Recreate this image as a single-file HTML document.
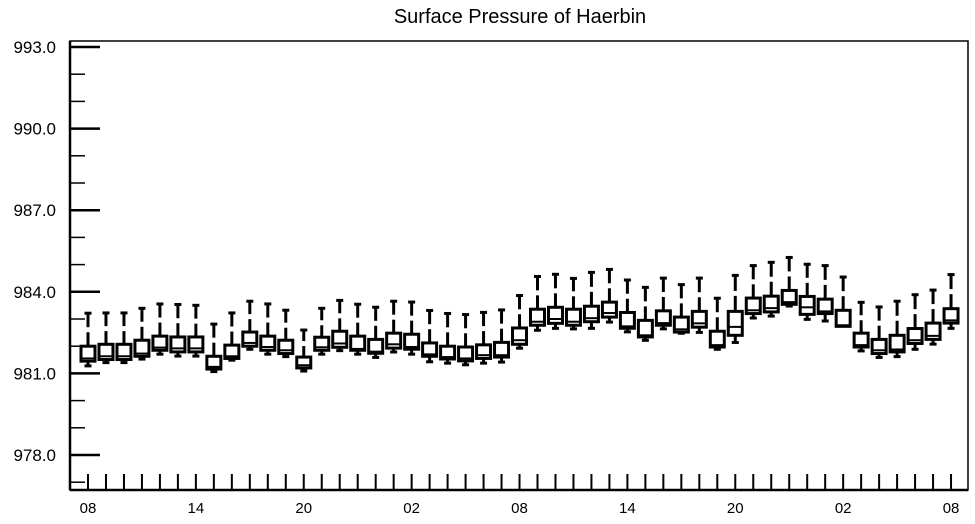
<!DOCTYPE html>
<html><head><meta charset="utf-8"><style>
html,body{margin:0;padding:0;background:#fff;}
svg text{font-family:"Liberation Sans",Arial,sans-serif;fill:#000;}
</style></head><body>
<svg id="chart" width="975" height="519" viewBox="0 0 975 519" xmlns="http://www.w3.org/2000/svg">
<text x="520" y="23" font-size="20" text-anchor="middle">Surface Pressure of Haerbin</text>
<rect x="70" y="41" width="898" height="449" fill="none" stroke="#000" stroke-width="1.5"/>
<line x1="70" y1="41" x2="70" y2="490" stroke="#000" stroke-width="2.5"/>
<line x1="70" y1="490" x2="968" y2="490" stroke="#000" stroke-width="2.5"/>
<g id="axes"></g>
<g id="boxes"></g>
</svg>
<script>
const yTicks = [993.0, 990.0, 987.0, 984.0, 981.0, 978.0];
const xLabels = ["08","14","20","02","08","14","20","02","08"];
const maxV = [983.25,983.26,983.26,983.43,983.59,983.57,983.54,982.85,983.26,983.69,983.59,983.36,982.63,983.43,983.72,983.58,983.47,983.69,983.66,983.35,983.24,983.2,983.28,983.37,983.9,984.6,984.68,984.53,984.75,984.86,984.47,984.2,984.54,984.3,984.54,983.8,984.64,985.0,985.12,985.3,985.05,985.0,984.58,983.65,983.48,983.69,983.93,984.1,984.67];
const q3V = [982.0,982.07,982.07,982.22,982.37,982.34,982.34,981.63,982.04,982.52,982.37,982.22,981.6,982.33,982.55,982.37,982.25,982.48,982.44,982.12,982.0,981.97,982.05,982.14,982.67,983.36,983.43,983.36,983.47,983.62,983.24,982.95,983.3,983.07,983.28,982.55,983.28,983.77,983.84,984.05,983.83,983.73,983.32,982.48,982.25,982.4,982.65,982.85,983.38];
const medV = [981.55,981.63,981.63,981.73,981.95,981.92,981.92,981.24,981.63,982.12,981.97,981.85,981.3,981.96,982.1,981.9,981.8,982.07,981.97,981.7,981.6,981.55,981.67,981.67,982.22,982.9,983.0,982.9,983.03,983.22,982.73,982.4,982.85,982.62,982.84,982.04,982.71,983.32,983.4,983.62,983.43,983.28,982.77,982.04,981.85,981.88,982.22,982.38,982.95];
const q1V = [981.45,981.51,981.51,981.63,981.85,981.79,981.79,981.16,981.55,982.0,981.85,981.73,981.2,981.85,981.96,981.85,981.74,981.93,981.89,981.63,981.53,981.46,981.55,981.6,982.07,982.77,982.84,982.77,982.9,983.07,982.66,982.34,982.77,982.52,982.7,981.97,982.4,983.2,983.26,983.54,983.17,983.2,982.73,981.97,981.73,981.79,982.1,982.25,982.85];
const minV = [981.24,981.36,981.36,981.49,981.67,981.6,981.6,981.03,981.45,981.85,981.67,981.58,981.05,981.67,981.8,981.67,981.55,981.75,981.67,981.39,981.34,981.28,981.34,981.38,981.89,982.55,982.62,982.6,982.62,982.85,982.49,982.18,982.6,982.44,982.47,981.85,982.1,983.0,983.07,983.44,982.95,982.89,982.71,981.79,981.55,981.58,981.85,982.04,982.62];

const NS="http://www.w3.org/2000/svg";
function yS(v){return 47+(993-v)*27.2;}
function xS(i){return 88+i*17.98;}
function mk(tag,attrs,parent){const e=document.createElementNS(NS,tag);for(const k in attrs)e.setAttribute(k,attrs[k]);parent.appendChild(e);return e;}
const ax=document.getElementById('axes');
// y ticks major + minor
for(let v=993;v>=977;v-=1){
  const major=yTicks.includes(v);
  const t=mk('line',{x1:70,x2:major?100:85,y1:yS(v),y2:yS(v),stroke:'#000','stroke-width':major?2.5:1.5},ax);
  
  
}
yTicks.forEach(v=>{
  const t=mk('text',{x:56,y:yS(v)+6,'font-size':17,'text-anchor':'end'},ax);
  t.textContent=v.toFixed(1);
  
  
});
for(let i=0;i<maxV.length;i++){
  const t=mk('line',{x1:xS(i),x2:xS(i),y1:474,y2:490,stroke:'#000','stroke-width':2},ax);
  
  
}
xLabels.forEach((s,j)=>{
  const t=mk('text',{x:xS(j*6),y:513,'font-size':15,'text-anchor':'middle'},ax);
  t.textContent=s;
  
  
});
const bx=document.getElementById('boxes');
for(let i=0;i<maxV.length;i++){
  const x=xS(i);
  const g=mk('g',{},bx);
  
  
  const yMax=yS(maxV[i]),yQ3=yS(q3V[i]),yMed=yS(medV[i]),yQ1=yS(q1V[i]),yMin=yS(minV[i]);
  const mid=(yMax+yQ3)/2;
  mk('line',{x1:x,x2:x,y1:yMax,y2:mid-2,stroke:'#000','stroke-width':3},g);
  mk('line',{x1:x,x2:x,y1:mid+3,y2:yQ3,stroke:'#000','stroke-width':3},g);
  mk('line',{x1:x-3.5,x2:x+3.5,y1:yMax+1,y2:yMax+1,stroke:'#000','stroke-width':3},g);
  mk('line',{x1:x,x2:x,y1:yQ1,y2:yMin,stroke:'#000','stroke-width':3},g);
  mk('line',{x1:x-3.5,x2:x+3.5,y1:yMin-1,y2:yMin-1,stroke:'#000','stroke-width':3},g);
  mk('rect',{x:x-7,y:yQ3,width:14,height:Math.max(yQ1-yQ3,1),fill:'#fff',stroke:'#000','stroke-width':3},g);
  mk('line',{x1:x-7,x2:x+7,y1:yMed,y2:yMed,stroke:'#000','stroke-width':2},g);
}
</script>
</body></html>
